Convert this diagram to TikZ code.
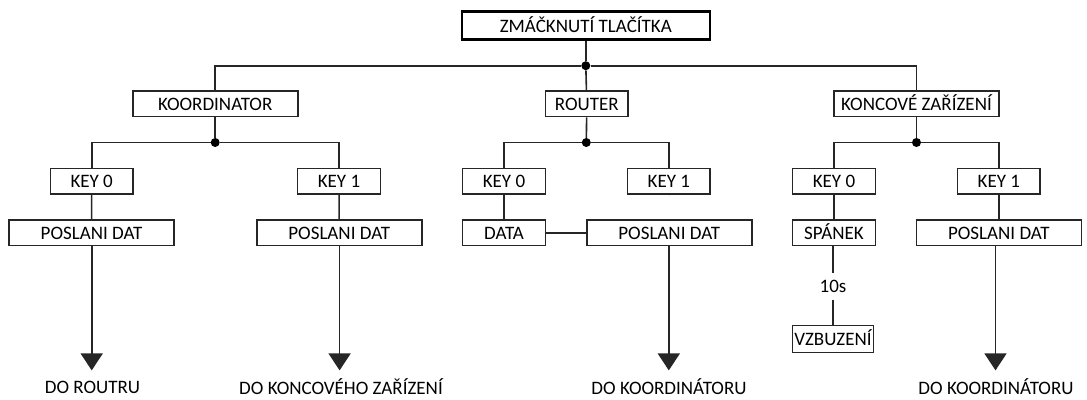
\documentclass[tikz,border=0pt]{standalone}
\usepackage{fontspec}
\setmainfont{Carlito}
\usetikzlibrary{arrows.meta}
\begin{document}
\begin{tikzpicture}[x=1pt,y=-1pt,
  box/.style={draw=black!85,line width=1.6pt,minimum height=25.7pt,inner sep=0pt,font=\fontsize{19}{22}\selectfont,text height=13pt,text depth=0pt},
  wbox/.style={box,minimum width=165pt},
  kbox/.style={box,minimum width=82.7pt},
  lbl/.style={inner sep=0pt,font=\fontsize{19}{22}\selectfont},
  ln/.style={draw=black!85,line width=1.6pt},
  arr/.style={ln,-{Triangle[width=22pt,length=17pt]}},
  dot/.style={circle,fill=black,inner sep=0pt,minimum size=9pt}]
\useasboundingbox (0,0) rectangle (1087,399);
% top
\node[box,minimum width=248pt,minimum height=27.6pt,line width=2.6pt,draw=black] (top) at (585.8,25.5) {ZMÁČKNUTÍ TLAČÍTKA};
\node[dot] (j0) at (585.8,65.7) {};
\node[wbox] (koord) at (215.2,103.8) {KOORDINATOR};
\node[kbox] (router) at (586.8,103.8) {ROUTER};
\node[wbox] (konc) at (916.5,103.8) {KONCOVÉ ZAŘÍZENÍ};
\draw[ln] (top) -- (j0);
\draw[ln] (j0) -- (router);
\draw[ln] (j0) -| (koord);
\draw[ln] (j0) -| (konc);
% level 2 junctions
\node[dot] (ja) at (215.2,142.5) {};
\node[dot] (jb) at (586.3,142.5) {};
\node[dot] (jc) at (916.5,142.5) {};
\draw[ln] (koord) -- (ja);
\draw[ln] (router) -- (jb);
\draw[ln] (konc) -- (jc);
% keys
\node[kbox] (k0a) at (91.7,181.2) {KEY 0};
\node[kbox] (k1a) at (339,181.2) {KEY 1};
\node[kbox] (k0b) at (504,181.2) {KEY 0};
\node[kbox] (k1b) at (668.8,181.2) {KEY 1};
\node[kbox] (k0c) at (834,181.2) {KEY 0};
\node[kbox] (k1c) at (998.9,181.2) {KEY 1};
\draw[ln] (ja) -| (k0a);
\draw[ln] (ja) -| (k1a);
\draw[ln] (jb) -| (k0b);
\draw[ln] (jb) -| (k1b);
\draw[ln] (jc) -| (k0c);
\draw[ln] (jc) -| (k1c);
% third level
\node[wbox] (pa) at (91.5,232.8) {POSLANI DAT};
\node[wbox] (pb) at (339.2,232.8) {POSLANI DAT};
\node[kbox] (data) at (504,232.8) {DATA};
\node[wbox] (pc) at (669.2,232.8) {POSLANI DAT};
\node[kbox] (span) at (834,232.8) {SPÁNEK};
\node[wbox] (pd) at (998.9,232.8) {POSLANI DAT};
\draw[ln] (k0a) -- (pa);
\draw[ln] (k1a) -- (pb);
\draw[ln] (k0b) -- (data);
\draw[ln] (k1b) -- (pc |- k1b.south);
\draw[ln] (data) -- (pc);
\draw[ln] (k0c) -- (span);
\draw[ln] (k1c) -- (pd);
% sleep
\node[lbl,minimum height=26pt] (t10) at (833,286.5) {10s};
\node[box,minimum height=27pt,inner xsep=1.5pt,line width=1.3pt] (vz) at (833,339) {VZBUZENÍ};
\draw[ln] (span.south -| t10) -- (t10);
\draw[ln] (t10) -- (vz);
% arrows
\coordinate (ea) at (91.7,370.4);
\coordinate (eb) at (339.6,370.4);
\coordinate (ec) at (668.8,370.4);
\coordinate (ed) at (995.5,370.4);
\draw[arr] (pa.south -| ea) -- (ea);
\draw[arr] (pb.south -| eb) -- (eb);
\draw[arr] (pc.south -| ec) -- (ec);
\draw[arr] (pd.south -| ed) -- (ed);
\node[lbl] (da) at (92.5,387) {DO ROUTRU};
\node[lbl] (db) at (341,387) {DO KONCOVÉHO ZAŘÍZENÍ};
\node[lbl] (dc) at (669,387) {DO KOORDINÁTORU};
\node[lbl] (dd) at (996,387) {DO KOORDINÁTORU};
\end{tikzpicture}
\end{document}
